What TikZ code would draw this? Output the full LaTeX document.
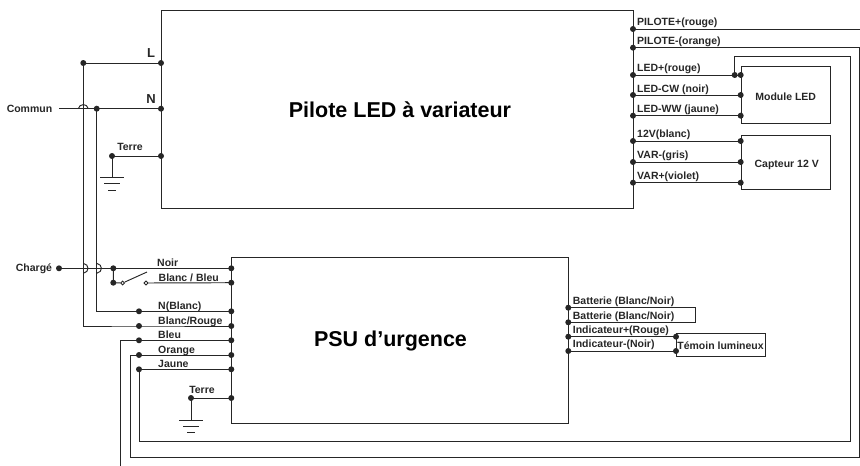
\documentclass[tikz,border=0pt]{standalone}
\usepackage{fontspec}
\setmainfont{Liberation Sans}
\definecolor{ink}{HTML}{262626}
\tikzset{
  wire/.style={draw=ink,line width=.95pt,line join=miter},
  boxshape/.style={draw=ink,line width=1.05pt,inner sep=0pt,anchor=north west},
  dot/.style={circle,fill=ink,draw=none,inner sep=0pt,minimum size=6pt},
  opendot/.style={circle,fill=white,draw=ink,line width=.9pt,inner sep=0pt,minimum size=3.8pt},
  lbl/.style={font=\bfseries\fontsize{10.5pt}{11pt}\selectfont,text=ink,inner sep=0pt,text height=9pt,text depth=.8pt},
  lblw/.style={lbl,anchor=west},
  big/.style={font=\bfseries\fontsize{21.5pt}{23pt}\selectfont,text=black,inner sep=0pt},
  pin/.style={font=\bfseries\fontsize{13pt}{14pt}\selectfont,text=ink,inner sep=0pt}
}
\newcommand{\gnd}[3]{% top node name, x, y
  \coordinate (#1top) at (#2,#3);
  \coordinate (#1la) at (#2-12,#3); \coordinate (#1ra) at (#2+12,#3);
  \coordinate (#1lb) at (#2-8,#3+6.2); \coordinate (#1rb) at (#2+8,#3+6.2);
  \coordinate (#1lc) at (#2-4,#3+12.4); \coordinate (#1rc) at (#2+4,#3+12.4);
  \draw[wire] (#1la) -- (#1ra);
  \draw[wire] (#1lb) -- (#1rb);
  \draw[wire] (#1lc) -- (#1rc);
}
\begin{document}
\begin{tikzpicture}[x=1pt,y=-1pt]
\useasboundingbox (0,0) rectangle (860,466);
% boxes
\node[boxshape,minimum width=472pt,minimum height=198.5pt] (pilot) at (161,9.7) {};
\node[boxshape,minimum width=337pt,minimum height=166.6pt] (psu) at (231.3,256.7) {};
\node[boxshape,minimum width=89.3pt,minimum height=57.3pt] (module) at (740.7,65.7) {};
\node[boxshape,minimum width=89.3pt,minimum height=54pt] (capteur) at (740.7,135) {};
\node[boxshape,minimum width=89pt,minimum height=22.7pt] (temoin) at (676,333.3) {};
% box titles
\node[big] (tpilot) at (400,110) {Pilote LED à variateur};
\node[big] (tpsu) at (390.5,340.5) {PSU d’urgence};
\node[lbl] (tmodule) at (785.7,96) {Module LED};
\node[lbl] (tcapteur) at (786.7,163) {Capteur 12 V};
\node[lbl] (ttemoin) at (720.5,345) {Témoin lumineux};
% dots on pilot left
\node[dot] (L) at (161,63) {};
\node[dot] (N) at (161,108.7) {};
\node[dot] (TA) at (161,156) {};
\node[dot] (Lj) at (83.3,63) {};
\node[dot] (Nj) at (96.7,108.7) {};
\node[dot] (TAj) at (112,156) {};
\coordinate (communend) at (59,108.7);
\coordinate (archA) at (78.3,108.7);
\coordinate (archB) at (88.3,108.7);
% pilot right
\node[dot] (pp) at (633,29) {};
\node[dot] (pm) at (633,47.7) {};
\node[dot] (lp) at (633,75) {};
\node[dot] (lc) at (633,95) {};
\node[dot] (lw) at (633,115.7) {};
\node[dot] (vd) at (633,141) {};
\node[dot] (vm) at (633,162) {};
\node[dot] (vp) at (633,182.7) {};
\node[dot] (mlp) at (740.7,75) {};
\node[dot] (mlc) at (740.7,95) {};
\node[dot] (mlw) at (740.7,115.7) {};
\node[dot] (cvd) at (740.7,141) {};
\node[dot] (cvm) at (740.7,162) {};
\node[dot] (cvp) at (740.7,182.7) {};
\node[dot] (jj) at (734.7,75) {};
\coordinate (ppend) at (860,29);
\coordinate (c1) at (859,47.7);
\coordinate (c2) at (859,457);
\coordinate (c3) at (130,457);
\coordinate (c4) at (130,355);
\coordinate (d1) at (734.7,56.7);
\coordinate (d2) at (850,56.7);
\coordinate (d3) at (850,441.7);
\coordinate (d4) at (139,441.7);
\coordinate (e1) at (120,340.3);
\coordinate (e2) at (120,466);
% PSU left
\node[dot] (charge) at (59,268.3) {};
\node[dot] (sw1) at (113.3,268.3) {};
\node[dot] (sw2) at (113.3,282.7) {};
\node[opendot] (swa) at (122.7,283) {};
\node[opendot] (swb) at (146,283) {};
\coordinate (blade) at (147,272);
\node[dot] (pnoir) at (231.3,268.3) {};
\node[dot] (pbb) at (231.3,282.7) {};
\node[dot] (pnb) at (231.3,311.3) {};
\node[dot] (pbr) at (231.3,326) {};
\node[dot] (pbl) at (231.3,340.3) {};
\node[dot] (por) at (231.3,355) {};
\node[dot] (pja) at (231.3,369.3) {};
\node[dot] (pte) at (231.3,398) {};
\node[dot] (jnb) at (139,311.3) {};
\node[dot] (jbr) at (139,326) {};
\node[dot] (jbl) at (139,340.3) {};
\node[dot] (jor) at (139,355) {};
\node[dot] (jja) at (139,369.3) {};
\node[dot] (jte) at (191,398) {};
\coordinate (nb) at (96.7,311.3);
\coordinate (lb) at (83.3,326);
% PSU right
\node[dot] (b1) at (568.3,307.7) {};
\node[dot] (b2) at (568.3,322.3) {};
\node[dot] (i1) at (568.3,336.7) {};
\node[dot] (i2) at (568.3,351) {};
\node[dot] (t1) at (676,336.7) {};
\node[dot] (t2) at (676,351) {};
\coordinate (bl1) at (695.7,307.7);
\coordinate (bl2) at (695.7,322.3);
% grounds
\gnd{ga}{112}{177.7}
\gnd{gb}{191}{420}
% wires
\draw[wire] (L.center) -- (Lj.center) -- (lb) -- (jbr.center) -- (pbr.center);
\draw[wire] (communend) -- (N.center);
\draw[wire] (archA) .. controls (79.5,103.2) and (87.1,103.2) .. (archB);
\draw[wire] (Nj.center) -- (nb) -- (jnb.center) -- (pnb.center);
\draw[wire] (TA.center) -- (TAj.center) -- (gatop);
\draw[wire] (pte.center) -- (jte.center) -- (gbtop);
\draw[wire] (pp.center) -- (ppend);
\draw[wire] (pm.center) -- (c1) -- (c2) -- (c3) -- (c4) -- (por.center);
\draw[wire] (lp.center) -- (mlp.center);
\draw[wire] (jj.center) -- (d1) -- (d2) -- (d3) -- (d4) -- (jja.center) -- (pja.center);
\draw[wire] (lc.center) -- (mlc.center);
\draw[wire] (lw.center) -- (mlw.center);
\draw[wire] (vd.center) -- (cvd.center);
\draw[wire] (vm.center) -- (cvm.center);
\draw[wire] (vp.center) -- (cvp.center);
\draw[wire] (e2) -- (e1) -- (pbl.center);
\draw[wire] (charge.center) -- (pnoir.center);
\draw[wire] (sw1.center) -- (sw2.center) -- (swa);
\draw[wire] (swa) -- (blade);
\draw[wire] (swb) -- (pbb.center);
\draw[wire] (83.3,263.3) .. controls (89.6,264.5) and (89.6,272.1) .. (83.3,273.3);
\draw[wire] (96.7,263.3) .. controls (103,264.5) and (103,272.1) .. (96.7,273.3);
\draw[wire] (b1.center) -- (bl1) -- (bl2) -- (b2.center);
\draw[wire] (i1.center) -- (t1.center);
\draw[wire] (i2.center) -- (t2.center);
% labels
\node[pin] (tL) at (151,53) {L};
\node[pin] (tN) at (151,99) {N};
\node[lbl] (tterrea) at (130,146) {Terre};
\node[lbl] (tcommun) at (29.5,108) {Commun};
\node[lbl] (tcharge) at (34,267) {Chargé};
\node[lblw] at (157,262) {Noir};
\node[lblw] at (158.5,277.5) {Blanc / Bleu};
\node[lblw] at (158,305) {N(Blanc)};
\node[lblw] at (158,320.5) {Blanc/Rouge};
\node[lblw] at (158,334.5) {Bleu};
\node[lblw] at (158,349.5) {Orange};
\node[lblw] at (158,363) {Jaune};
\node[lbl] at (202,389) {Terre};
\node[lblw] at (637,21) {PILOTE+(rouge)};
\node[lblw] at (637,40.7) {PILOTE-(orange)};
\node[lblw] at (637,67) {LED+(rouge)};
\node[lblw] at (637,88) {LED-CW (noir)};
\node[lblw] at (637,108) {LED-WW (jaune)};
\node[lblw] at (637,133.5) {12V(blanc)};
\node[lblw] at (637,154) {VAR-(gris)};
\node[lblw] at (637,175.5) {VAR+(violet)};
\node[lblw] at (572.7,300.5) {Batterie (Blanc/Noir)};
\node[lblw] at (572.7,315) {Batterie (Blanc/Noir)};
\node[lblw] at (572.7,329.5) {Indicateur+(Rouge)};
\node[lblw] at (572.7,343.5) {Indicateur-(Noir)};
\end{tikzpicture}
\end{document}
